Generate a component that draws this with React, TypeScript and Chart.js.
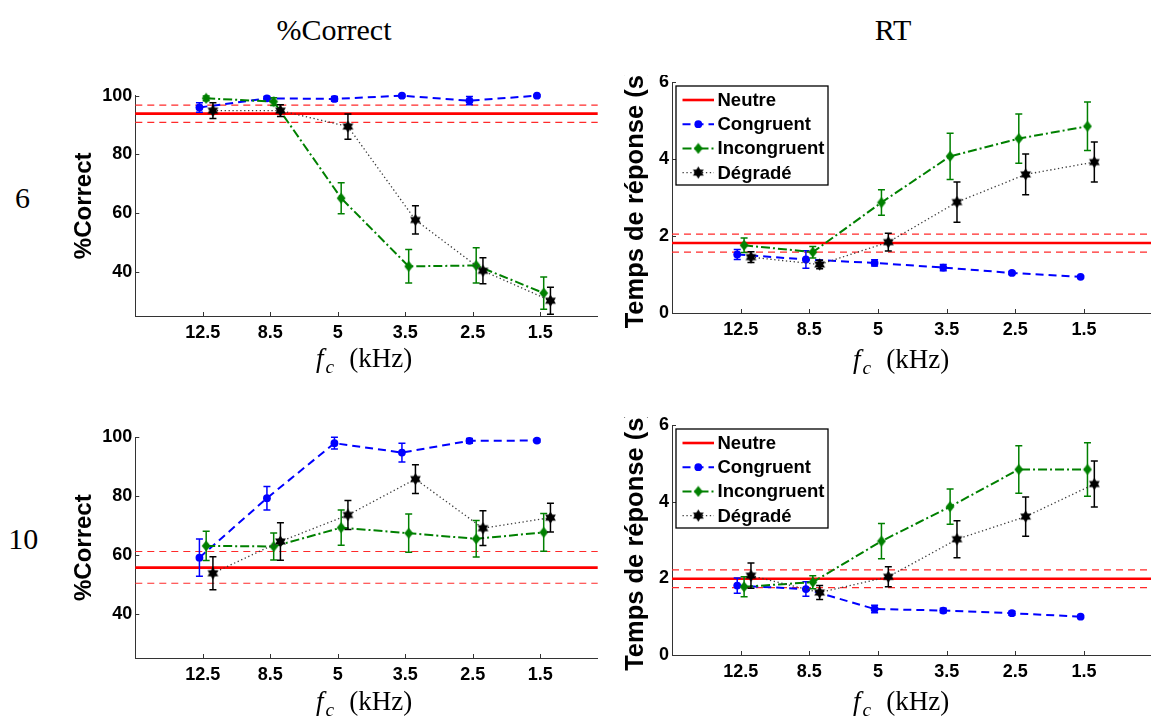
import React, { useEffect, useRef } from 'react';
import { Chart, registerables } from 'chart.js';

Chart.register(...registerables);

// ---------------- data ----------------
const freqLabels = ['12.5', '8.5', '5', '3.5', '2.5', '1.5'];
const pctTicks = [40, 60, 80, 100];
const rtTicks = [0, 2, 4, 6];
const legendNames = ['Neutre', 'Congruent', 'Incongruent', 'Dégradé'];
const columnTitles = ['%Correct', 'RT'];
const rowLabels = ['6', '10'];

// %Correct, 6
const pc6Congruent = [96.0, 99.1, 98.9, 100, 98.3, 100];
const pc6CongruentErr = [1.6, 0.6, 0.8, 0.4, 1.4, 0.3];
const pc6Incongruent = [99.1, 98.0, 65.1, 41.9, 42.2, 32.8];
const pc6IncongruentErr = [0.8, 1.3, 5.3, 5.7, 6.0, 5.5];
const pc6Degrade = [94.9, 94.9, 89.5, 57.7, 40.4, 30.2];
const pc6DegradeErr = [2.7, 2.0, 4.3, 4.8, 4.4, 4.6];
const pc6Neutre = [93.9, 90.9, 96.8];

// RT, 6
const rt6Congruent = [1.52, 1.39, 1.30, 1.18, 1.04, 0.94];
const rt6CongruentErr = [0.13, 0.23, 0.08, 0.08, 0.04, 0.03];
const rt6Incongruent = [1.76, 1.58, 2.87, 4.07, 4.53, 4.85];
const rt6IncongruentErr = [0.19, 0.15, 0.33, 0.6, 0.64, 0.63];
const rt6Degrade = [1.45, 1.26, 1.84, 2.88, 3.6, 3.92];
const rt6DegradeErr = [0.14, 0.11, 0.23, 0.52, 0.53, 0.52];
const rt6Neutre = [1.82, 1.58, 2.05];

// %Correct, 10
const pc10Congruent = [59.1, 79.3, 98.0, 94.8, 98.8, 98.9];
const pc10CongruentErr = [6.3, 4.0, 2.0, 3.2, 0.8, 0.5];
const pc10Incongruent = [63.1, 62.9, 69.3, 67.4, 65.5, 67.7];
const pc10IncongruentErr = [5.0, 4.6, 6.0, 6.5, 6.2, 6.4];
const pc10Degrade = [53.8, 64.6, 73.6, 85.8, 69.1, 72.7];
const pc10DegradeErr = [5.6, 6.4, 4.9, 4.9, 5.9, 4.9];
const pc10Neutre = [55.7, 50.4, 61.2];

// RT, 10
const rt10Congruent = [1.81, 1.72, 1.2, 1.16, 1.09, 1.0];
const rt10CongruentErr = [0.2, 0.19, 0.1, 0.06, 0.05, 0.03];
const rt10Incongruent = [1.78, 1.9, 2.97, 3.87, 4.84, 4.84];
const rt10IncongruentErr = [0.26, 0.17, 0.46, 0.46, 0.62, 0.7];
const rt10Degrade = [2.07, 1.63, 2.04, 3.02, 3.61, 4.46];
const rt10DegradeErr = [0.33, 0.18, 0.26, 0.48, 0.51, 0.6];
const rt10Neutre = [1.99, 1.76, 2.22];

// small horizontal shifts of each series around a category (index units)
const seriesShift = { congruent: -0.05, incongruent: 0.05, degrade: 0.15 };

// ---------------- styling ----------------
const SANS = "'Liberation Sans', Arial, Helvetica, sans-serif";
const SERIF = "'Liberation Serif', 'Times New Roman', serif";
const BLUE = '#0000ff';
const GREEN = '#008000';
const RED = '#ff0000';
const RED_LIGHT = '#ff2a2a';

function makeHexagram(): HTMLCanvasElement {
  const c = document.createElement('canvas');
  c.width = 13; c.height = 13;
  const g = c.getContext('2d')!;
  const cx = 6.5, cy = 6.5, R = 6.2;
  g.fillStyle = '#000';
  for (const start of [-Math.PI / 2, Math.PI / 2]) {
    g.beginPath();
    for (let k = 0; k < 3; k++) {
      const a = start + (k * 2 * Math.PI) / 3;
      const px = cx + R * Math.cos(a), py = cy + R * Math.sin(a);
      if (k === 0) g.moveTo(px, py); else g.lineTo(px, py);
    }
    g.closePath();
    g.fill();
  }
  return c;
}

function makeDiamond(): HTMLCanvasElement {
  const c = document.createElement('canvas');
  c.width = 10; c.height = 12;
  const g = c.getContext('2d')!;
  g.fillStyle = GREEN;
  g.beginPath();
  g.moveTo(5, 0.5); g.lineTo(9.4, 6); g.lineTo(5, 11.5); g.lineTo(0.6, 6);
  g.closePath(); g.fill();
  return c;
}

const errorBarPlugin = {
  id: 'errorBars',
  beforeDatasetDraw(chart: any, args: any) {
    const ds = chart.data.datasets[args.index];
    const errs: number[] | undefined = ds.errors;
    if (!errs) return;
    const xs = chart.scales.x, ys = chart.scales.y;
    const ctx = chart.ctx;
    ctx.save();
    ctx.strokeStyle = ds.errColor || ds.borderColor;
    ctx.lineWidth = 1.5;
    ctx.setLineDash([]);
    ctx.beginPath();
    ds.data.forEach((p: any, i: number) => {
      const px = xs.getPixelForValue(p.x);
      const t = ys.getPixelForValue(p.y + errs[i]);
      const b = ys.getPixelForValue(p.y - errs[i]);
      ctx.moveTo(px, t); ctx.lineTo(px, b);
      ctx.moveTo(px - 3.5, t); ctx.lineTo(px + 3.5, t);
      ctx.moveTo(px - 3.5, b); ctx.lineTo(px + 3.5, b);
    });
    ctx.stroke();
    ctx.restore();
  },
};

const innerTicksPlugin = {
  id: 'innerTicks',
  beforeDatasetsDraw(chart: any) {
    const { ctx, chartArea, scales } = chart;
    ctx.save();
    ctx.strokeStyle = '#333';
    ctx.lineWidth = 1;
    ctx.setLineDash([]);
    ctx.beginPath();
    scales.x.ticks.forEach((t: any) => {
      const px = Math.round(scales.x.getPixelForValue(t.value)) + 0.5;
      ctx.moveTo(px, chartArea.bottom); ctx.lineTo(px, chartArea.bottom - 4);
    });
    scales.y.ticks.forEach((t: any) => {
      const py = Math.round(scales.y.getPixelForValue(t.value)) + 0.5;
      ctx.moveTo(chartArea.left, py); ctx.lineTo(chartArea.left + 4, py);
    });
    ctx.stroke();
    ctx.restore();
  },
};

const matLegendPlugin = {
  id: 'matLegend',
  afterDraw(chart: any, _args: any, opts: any) {
    if (!opts || !opts.display) return;
    const { ctx, chartArea } = chart;
    const bx = chartArea.left + 4, by = chartArea.top + 4, bw = 152, bh = 99;
    ctx.save();
    ctx.fillStyle = '#fff';
    ctx.fillRect(bx, by, bw, bh);
    ctx.strokeStyle = '#000';
    ctx.lineWidth = 1.3;
    ctx.setLineDash([]);
    ctx.strokeRect(bx, by, bw, bh);
    const entries = chart.data.datasets
      .filter((d: any) => d.legendIndex !== undefined)
      .sort((a: any, b: any) => a.legendIndex - b.legendIndex);
    entries.forEach((ds: any, i: number) => {
      const y = by + 14 + i * 24.2;
      ctx.strokeStyle = ds.borderColor;
      ctx.lineWidth = ds.borderWidth;
      ctx.setLineDash(ds.borderDash || []);
      ctx.beginPath();
      ctx.moveTo(bx + 6.5, y); ctx.lineTo(bx + 38, y);
      ctx.stroke();
      ctx.setLineDash([]);
      const mx = bx + 22.3;
      if (ds.pointStyle instanceof HTMLCanvasElement) {
        const im = ds.pointStyle;
        ctx.drawImage(im, mx - im.width / 2, y - im.height / 2);
      } else if (ds.pointRadius > 0) {
        ctx.fillStyle = ds.pointBackgroundColor;
        ctx.beginPath(); ctx.arc(mx, y, ds.pointRadius, 0, Math.PI * 2); ctx.fill();
      }
      ctx.fillStyle = '#000';
      ctx.font = `bold 18.5px ${SANS}`;
      ctx.textBaseline = 'middle';
      ctx.textAlign = 'left';
      ctx.fillText(ds.label, bx + 41.5, y + 1);
    });
    ctx.restore();
  },
};

type PanelCfg = {
  left: number; top: number; w: number; h: number; clipTop: number;
  padLeft: number; padTop: number; padRight: number;
  yAxisWidth: number; xAxisHeight: number;
  xMax: number; yMin: number; yMax: number; yTicks: number[];
  yTitle: string; yTitleSize: number; legend: boolean;
  cong: number[]; congErr: number[]; inc: number[]; incErr: number[];
  deg: number[]; degErr: number[]; neutre: number[];
};

const panels: PanelCfg[] = [
  {
    left: 60, top: 70, w: 545, h: 280, clipTop: 60, padLeft: 10.3, padTop: 25.7, padRight: 5,
    yAxisWidth: 65, xAxisHeight: 34, xMax: 6.85, yMin: 25, yMax: 100, yTicks: pctTicks,
    yTitle: '%Correct', yTitleSize: 24, legend: false,
    cong: pc6Congruent, congErr: pc6CongruentErr, inc: pc6Incongruent, incErr: pc6IncongruentErr,
    deg: pc6Degrade, degErr: pc6DegradeErr, neutre: pc6Neutre,
  },
  {
    left: 605, top: 52, w: 555, h: 298, clipTop: 75, padLeft: 15.9, padTop: 30, padRight: 5.7,
    yAxisWidth: 51.1, xAxisHeight: 37, xMax: 7, yMin: 0, yMax: 6, yTicks: rtTicks,
    yTitle: 'Temps de réponse (s)', yTitleSize: 25.5, legend: true,
    cong: rt6Congruent, congErr: rt6CongruentErr, inc: rt6Incongruent, incErr: rt6IncongruentErr,
    deg: rt6Degrade, degErr: rt6DegradeErr, neutre: rt6Neutre,
  },
  {
    left: 60, top: 410, w: 545, h: 282, clipTop: 400, padLeft: 10.3, padTop: 27.3, padRight: 5,
    yAxisWidth: 65, xAxisHeight: 34, xMax: 6.85, yMin: 25, yMax: 100, yTicks: pctTicks,
    yTitle: '%Correct', yTitleSize: 24, legend: false,
    cong: pc10Congruent, congErr: pc10CongruentErr, inc: pc10Incongruent, incErr: pc10IncongruentErr,
    deg: pc10Degrade, degErr: pc10DegradeErr, neutre: pc10Neutre,
  },
  {
    left: 605, top: 395, w: 555, h: 297, clipTop: 417, padLeft: 15.9, padTop: 30, padRight: 5.7,
    yAxisWidth: 51.1, xAxisHeight: 37, xMax: 7, yMin: 0, yMax: 6, yTicks: rtTicks,
    yTitle: 'Temps de réponse (s)', yTitleSize: 25.5, legend: true,
    cong: rt10Congruent, congErr: rt10CongruentErr, inc: rt10Incongruent, incErr: rt10IncongruentErr,
    deg: rt10Degrade, degErr: rt10DegradeErr, neutre: rt10Neutre,
  },
];

function Panel({ cfg }: { cfg: PanelCfg }) {
  const ref = useRef<HTMLCanvasElement>(null);
  useEffect(() => {
    if (!ref.current) return;
    const hex = makeHexagram();
    const dia = makeDiamond();
    const pts = (vals: number[], shift: number) => vals.map((v, i) => ({ x: i + 1 + shift, y: v }));
    const flat = (v: number) => [{ x: 0, y: v }, { x: cfg.xMax, y: v }];
    const datasets: any[] = [
      {
        label: legendNames[3], legendIndex: 3, data: pts(cfg.deg, seriesShift.degrade),
        errors: cfg.degErr, errColor: '#000',
        borderColor: '#3a3a3a', borderWidth: 1.3, borderDash: [1.3, 2.6],
        pointStyle: hex, pointRadius: 6, order: 0, clip: false,
      },
      {
        label: legendNames[2], legendIndex: 2, data: pts(cfg.inc, seriesShift.incongruent),
        errors: cfg.incErr, borderColor: GREEN, borderWidth: 2, borderDash: [9, 3, 2, 3],
        pointStyle: dia, pointRadius: 5, order: 1, clip: false,
      },
      {
        label: legendNames[1], legendIndex: 1, data: pts(cfg.cong, seriesShift.congruent),
        errors: cfg.congErr, borderColor: BLUE, borderWidth: 2, borderDash: [8, 5],
        pointStyle: 'circle', pointRadius: 3.9, pointBorderWidth: 0,
        pointBackgroundColor: BLUE, order: 2, clip: false,
      },
      {
        label: legendNames[0], legendIndex: 0, data: flat(cfg.neutre[0]),
        borderColor: RED, borderWidth: 2.6, pointRadius: 0, order: 3, clip: false,
      },
      {
        label: 'Neutre (bas)', data: flat(cfg.neutre[1]), borderColor: RED_LIGHT,
        borderWidth: 1.2, borderDash: [7, 5], pointRadius: 0, order: 4, clip: false,
      },
      {
        label: 'Neutre (haut)', data: flat(cfg.neutre[2]), borderColor: RED_LIGHT,
        borderWidth: 1.2, borderDash: [7, 5], pointRadius: 0, order: 5, clip: false,
      },
    ];
    const tickFont = { family: SANS, size: 18, weight: 'bold' as const };
    const chart = new Chart(ref.current, {
      type: 'line',
      data: { datasets },
      plugins: [errorBarPlugin, innerTicksPlugin, matLegendPlugin],
      options: {
        animation: false,
        responsive: false,
        devicePixelRatio: 1,
        events: [],
        layout: { padding: { left: cfg.padLeft, top: cfg.padTop, right: cfg.padRight, bottom: 0 } },
        plugins: {
          legend: { display: false },
          tooltip: { enabled: false },
          matLegend: { display: cfg.legend },
        } as any,
        scales: {
          x: {
            type: 'linear',
            min: 0,
            max: cfg.xMax,
            afterBuildTicks: (s: any) => { s.ticks = freqLabels.map((_, i) => ({ value: i + 1 })); },
            afterFit: (s: any) => { s.height = cfg.xAxisHeight; },
            ticks: {
              callback: (v: any) => freqLabels[Math.round(v) - 1] ?? '',
              font: tickFont, color: '#000', padding: 6, autoSkip: false, maxRotation: 0,
            },
            grid: { display: true, drawOnChartArea: false, drawTicks: false },
            border: { display: true, color: '#333', width: 1 },
          },
          y: {
            type: 'linear',
            min: cfg.yMin,
            max: cfg.yMax,
            afterBuildTicks: (s: any) => { s.ticks = cfg.yTicks.map((v) => ({ value: v })); },
            afterFit: (s: any) => { s.width = cfg.yAxisWidth; },
            ticks: { font: tickFont, color: '#000', padding: 3 },
            grid: { display: true, drawOnChartArea: false, drawTicks: false },
            border: { display: true, color: '#333', width: 1 },
            title: {
              display: true, text: cfg.yTitle, color: '#000',
              font: { family: SANS, size: cfg.yTitleSize, weight: 'bold' },
              padding: { top: 0, bottom: 0 },
            },
          },
        },
      } as any,
    });
    return () => chart.destroy();
  }, []);
  const bottom = cfg.top + cfg.h;
  return (
    <div
      style={{
        position: 'absolute', left: cfg.left, top: cfg.clipTop, width: cfg.w,
        height: bottom - cfg.clipTop, overflow: 'hidden',
      }}
    >
      <canvas
        ref={ref}
        width={cfg.w}
        height={cfg.h}
        style={{ position: 'absolute', left: 0, top: cfg.top - cfg.clipTop, width: cfg.w, height: cfg.h }}
      />
    </div>
  );
}

function XTitle({ left, baseline }: { left: number; baseline: number }) {
  return (
    <div
      style={{
        position: 'absolute', left, top: baseline - 22.6, font: `27px ${SERIF}`,
        lineHeight: 1, whiteSpace: 'nowrap', color: '#000',
      }}
    >
      <span style={{ fontStyle: 'italic' }}>f</span>
      <span style={{ fontStyle: 'italic', fontSize: '0.72em', position: 'relative', top: '0.28em', marginLeft: 2 }}>c</span>
      <span style={{ marginLeft: 15 }}>(kHz)</span>
    </div>
  );
}

function CenterText({ x, baseline, text }: { x: number; baseline: number; text: string }) {
  return (
    <div
      style={{
        position: 'absolute', left: x, top: baseline - 25.1, transform: 'translateX(-50%)',
        font: `30px ${SERIF}`, lineHeight: 1, whiteSpace: 'nowrap', color: '#000',
      }}
    >
      {text}
    </div>
  );
}

export default function App() {
  return (
    <div
      style={{
        position: 'fixed', left: 0, top: 0, width: 1151, height: 720,
        overflow: 'hidden', background: '#fff',
      }}
    >
      <CenterText x={334} baseline={40} text={columnTitles[0]} />
      <CenterText x={893} baseline={40} text={columnTitles[1]} />
      <CenterText x={22.5} baseline={208} text={rowLabels[0]} />
      <CenterText x={23.3} baseline={549} text={rowLabels[1]} />
      {panels.map((p, i) => (
        <Panel key={i} cfg={p} />
      ))}
      <XTitle left={316} baseline={368} />
      <XTitle left={853} baseline={369} />
      <XTitle left={316} baseline={711} />
      <XTitle left={853} baseline={711} />
    </div>
  );
}
